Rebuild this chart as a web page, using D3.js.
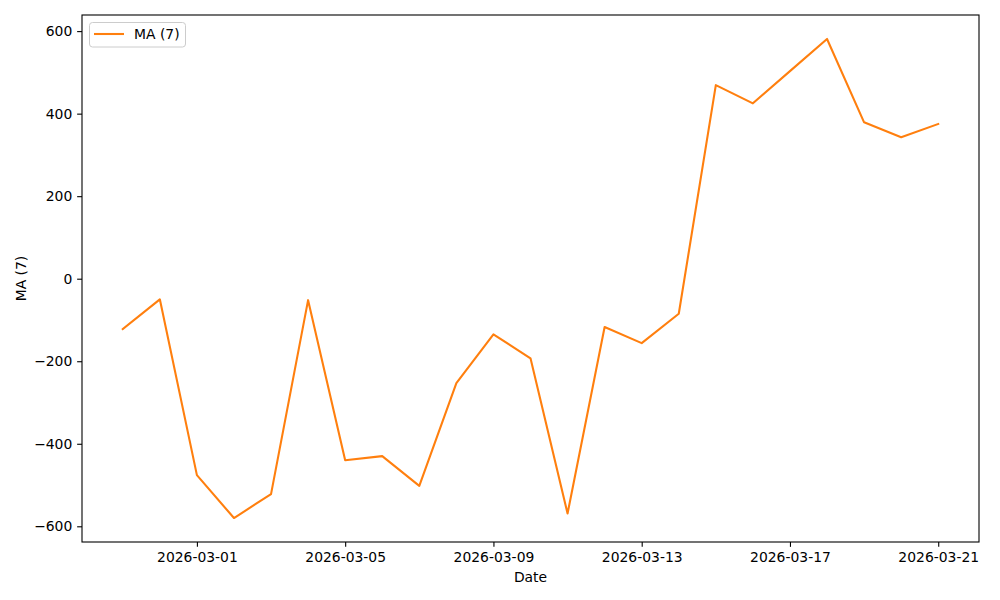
<!DOCTYPE html>
<html>
<head>
<meta charset="utf-8">
<script src="https://cdn.jsdelivr.net/npm/d3@7"></script>
<style>
  body { margin: 0; background: #fff; }
  svg { display: block; font-family: "DejaVu Sans", sans-serif; }
</style>
</head>
<body>
<svg id="chart" width="1000" height="600"></svg>
<script>
const dates = ["2026-02-27","2026-02-28","2026-03-01","2026-03-02","2026-03-03","2026-03-04","2026-03-05","2026-03-06","2026-03-07","2026-03-08","2026-03-09","2026-03-10","2026-03-11","2026-03-12","2026-03-13","2026-03-14","2026-03-15","2026-03-16","2026-03-17","2026-03-18","2026-03-19","2026-03-20","2026-03-21"];
const maValues = [-122, -50, -476, -580, -522, -52, -440, -430, -502, -253, -135, -193, -569, -117, -156, -85, 469, 425, 503, 581, 379, 343, 375];
const yTicks = [-600, -400, -200, 0, 200, 400, 600];
const xTickLabels = ["2026-03-01","2026-03-05","2026-03-09","2026-03-13","2026-03-17","2026-03-21"];
const seriesName = "MA (7)";
const xLabel = "Date";
const yLabel = "MA (7)";

(function () {
const parse = d3.utcParse("%Y-%m-%d");
const fmt = d3.utcFormat("%Y-%m-%d");
const data = dates.map((d, i) => ({ date: parse(d), value: maValues[i] }));

const svg = d3.select("#chart");
const mLeft = 82, mRight = 979, mTop = 15, mBottom = 542;

const xExt = d3.extent(data, d => d.date);
const xSpan = xExt[1] - xExt[0];
const x = d3.scaleUtc()
  .domain([new Date(+xExt[0] - 0.05 * xSpan), new Date(+xExt[1] + 0.05 * xSpan)])
  .range([mLeft, mRight]);

const yExt = d3.extent(maValues);
const ySpan = yExt[1] - yExt[0];
const y = d3.scaleLinear()
  .domain([yExt[0] - 0.05 * ySpan, yExt[1] + 0.05 * ySpan])
  .range([mBottom, mTop]);

const fontSize = 13.9;
const tickLen = 4.86;

const line = d3.line().x(d => x(d.date)).y(d => y(d.value));
svg.append("path")
  .datum(data)
  .attr("fill", "none")
  .attr("stroke", "#ff7f0e")
  .attr("stroke-width", 2.08)
  .attr("stroke-linejoin", "round")
  .attr("stroke-linecap", "square")
  .attr("d", line);

const xAxis = d3.axisBottom(x)
  .tickValues(xTickLabels.map(parse))
  .tickFormat(fmt)
  .tickSize(tickLen)
  .tickPadding(4.86);
const gx = svg.append("g").attr("transform", `translate(0,${mBottom})`).call(xAxis);

const yAxis = d3.axisLeft(y)
  .tickValues(yTicks)
  .tickFormat(d => d < 0 ? "\u2212" + Math.abs(d) : String(d))
  .tickSize(tickLen)
  .tickPadding(4.86);
const gy = svg.append("g").attr("transform", `translate(${mLeft},0)`).call(yAxis);

[gx, gy].forEach(g => {
  g.select(".domain").remove();
  g.selectAll(".tick line").attr("stroke", "#000").attr("stroke-width", 1.1);
  g.selectAll(".tick text").attr("fill", "#000").style("font-size", fontSize + "px").style("font-family", "DejaVu Sans");
});

svg.append("rect")
  .attr("x", mLeft).attr("y", mTop)
  .attr("width", mRight - mLeft).attr("height", mBottom - mTop)
  .attr("fill", "none").attr("stroke", "#000").attr("stroke-width", 1.1);

svg.append("text")
  .attr("x", (mLeft + mRight) / 2).attr("y", 582)
  .attr("text-anchor", "middle")
  .style("font-size", fontSize + "px")
  .text(xLabel);

svg.append("text")
  .attr("transform", `translate(26,${(mTop + mBottom) / 2}) rotate(-90)`)
  .attr("text-anchor", "middle")
  .style("font-size", fontSize + "px")
  .text(yLabel);

const lg = svg.append("g");
lg.append("rect")
  .attr("x", 89.5).attr("y", 22.5)
  .attr("width", 96).attr("height", 24.5)
  .attr("rx", 3).attr("ry", 3)
  .attr("fill", "#fff").attr("fill-opacity", 0.8)
  .attr("stroke", "#cccccc").attr("stroke-width", 1);
lg.append("line")
  .attr("x1", 94).attr("x2", 124)
  .attr("y1", 34).attr("y2", 34)
  .attr("stroke", "#ff7f0e").attr("stroke-width", 2.08);
lg.append("text")
  .attr("x", 134).attr("y", 39)
  .style("font-size", fontSize + "px")
  .text(seriesName);
})();
</script>
</body>
</html>
